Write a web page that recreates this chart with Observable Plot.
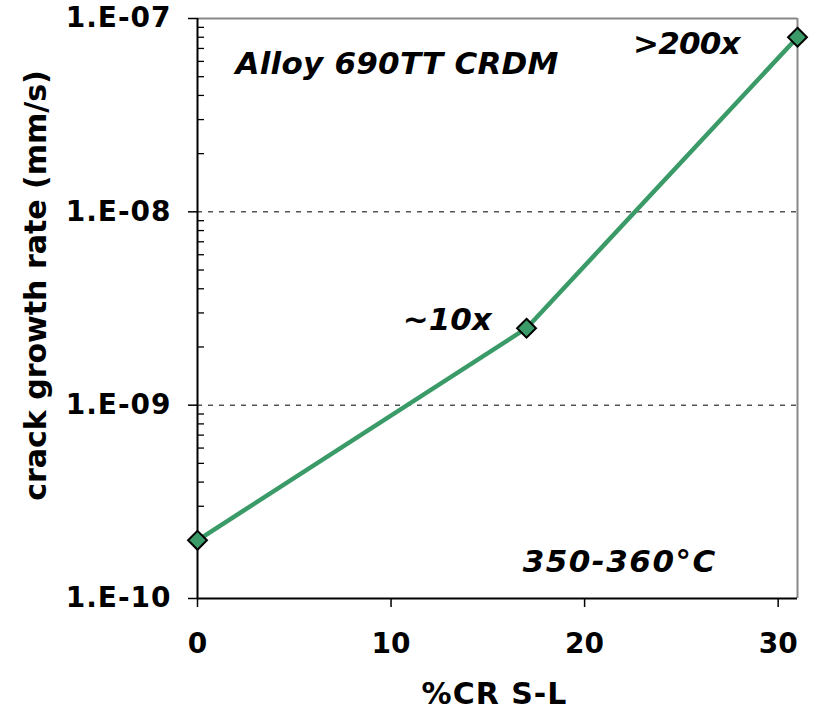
<!DOCTYPE html>
<html><head><meta charset="utf-8">
<script src="https://cdn.jsdelivr.net/npm/d3@7"></script>
<script src="https://cdn.jsdelivr.net/npm/@observablehq/plot@0.6"></script>
<style>
html,body{margin:0;padding:0;background:#fff;}
#chart{width:818px;height:712px;}
g[aria-label="y-axis tick label"] text{letter-spacing:1px;}
</style></head>
<body><div id="chart"></div>
<script>
// ---- data ----
const crPercent = [0, 17, 31];
const crackGrowthRate = [2e-10, 2.5e-9, 8e-8];
const yMajorTicks = [1e-10, 1e-9, 1e-8, 1e-7];
const yGridTicks = [1e-9, 1e-8];
const yMinorMultipliers = [2, 3, 4, 5, 6, 7, 8, 9];
const yMinorDecades = [1e-10, 1e-9, 1e-8];
const xTicks = [0, 10, 20, 30];
const annoText = ["Alloy 690TT CRDM", "~10x", ">200x", "350-360°C"];
const annoX = [1.96, 10.6, 22.5, 16.8];
const annoY = [5.8e-8, 2.75e-9, 7.4e-8, 1.55e-10];
const xLabel = "%CR S-L";
const yLabel = "crack growth rate (mm/s)";

const points = crPercent.map((x, i) => ({x, y: crackGrowthRate[i]}));
const yMinorTicks = yMinorDecades.flatMap(d => yMinorMultipliers.map(m => m * d));
const annos = annoText.map((t, i) => ({t, x: annoX[i], y: annoY[i]}));

const green = "#3b9b68";
const fmt = d => "1.E-" + String(Math.round(-Math.log10(d))).padStart(2, "0");

const chart = Plot.plot({
  width: 818,
  height: 712,
  marginLeft: 197,
  marginRight: 21,
  marginTop: 18,
  marginBottom: 114,
  style: {fontFamily: "'DejaVu Sans', Verdana, sans-serif", fontWeight: "bold", fontSize: "28px", color: "black", background: "white"},
  x: {domain: [0, 31]},
  y: {type: "log", domain: [1e-10, 1e-7]},
  marks: [
    Plot.ruleY(yGridTicks, {stroke: "#555", strokeWidth: 1.5, strokeDasharray: "5,6"}),
    Plot.ruleY([1e-7], {stroke: "#888", strokeWidth: 2}),
    Plot.ruleX([31], {stroke: "#888", strokeWidth: 2}),
    Plot.tickY(yMinorTicks, {y: d => d, insetRight: 593, stroke: "black", strokeWidth: 1.3}),
    Plot.axisY({ticks: yMajorTicks, tickFormat: fmt, tickSize: 9, tickPadding: 17, label: null, strokeWidth: 1.5, fontSize: 28}),
    Plot.axisX({ticks: xTicks, tickSize: 9, tickPadding: 26, label: null, strokeWidth: 1.5, fontSize: 28}),
    Plot.ruleX([0], {stroke: "black", strokeWidth: 2}),
    Plot.ruleY([1e-10], {stroke: "black", strokeWidth: 2}),
    Plot.line(points, {x: "x", y: "y", stroke: green, strokeWidth: 4.5}),
    Plot.dot(points, {x: "x", y: "y", symbol: "diamond2", r: 8.5, fill: green, stroke: "black", strokeWidth: 2}),
    Plot.text(annos, {x: "x", y: "y", text: "t", textAnchor: "start", lineAnchor: "middle", fontSize: 31, fontStyle: "italic", fontWeight: "bold", fill: "black"}),
    Plot.text([yLabel], {text: d => d, frameAnchor: "left", rotate: -90, textAnchor: "middle", lineAnchor: "middle", dx: -161, dy: -23, fontSize: 30, fontWeight: "bold", fill: "black"}),
    Plot.text([xLabel], {text: d => d, frameAnchor: "bottom", textAnchor: "middle", lineAnchor: "middle", dx: -3, dy: 96, fontSize: 30, fontWeight: "bold", fill: "black"})
  ]
});
// fine-tune glyph spacing to match the reference typeface widths
const spacing = {"350-360°C": "1.5px", ">200x": "-0.8px", "Alloy 690TT CRDM": "0.25px", "%CR S-L": "1px"};
d3.select(chart).selectAll("text").each(function() {
  const s = spacing[this.textContent];
  if (s) this.style.letterSpacing = s;
});
document.getElementById("chart").appendChild(chart);
</script>
</body></html>
